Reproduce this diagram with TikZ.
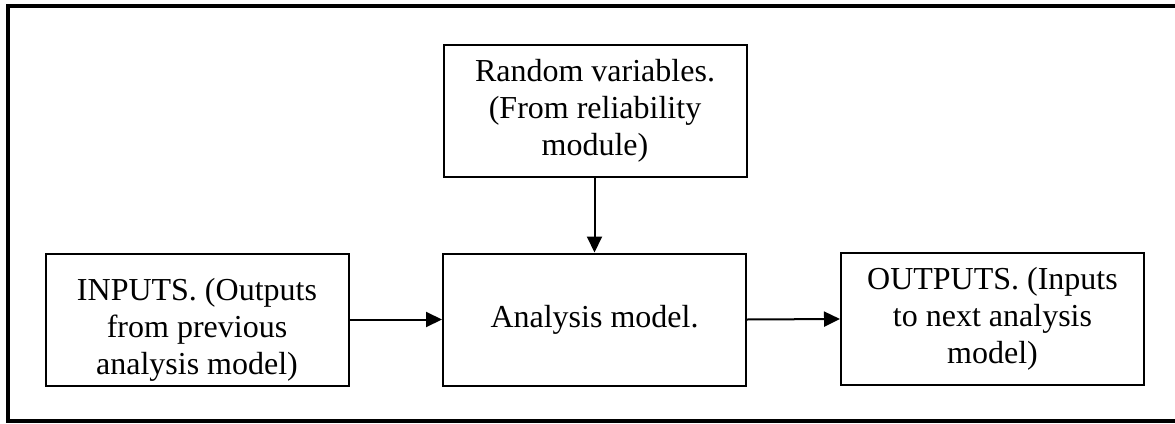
\documentclass[tikz,border=0pt]{standalone}
\usepackage{fontspec}
\setmainfont{Liberation Serif}
\usetikzlibrary{arrows.meta}
\tikzset{
  txt/.style={align=center, inner sep=0pt, font=\fontsize{32}{37}\selectfont},
  block/.style={draw, line width=2pt, rectangle, minimum width=303pt,
    minimum height=132pt, txt},
  flow/.style={line width=2pt, -{Triangle[length=16pt,width=15pt]}},
  frame/.style={line width=4pt}
}
\begin{document}
\begin{tikzpicture}[x=1pt,y=-1pt]
  \useasboundingbox (0,0) rectangle (1175,423);
  % outer frame, running past the right edge of the page
  \draw[frame] (8,6) rectangle (1190,421);

  \node[block] (rv)  at (595,111)   {Random variables.\\(From reliability\\module)};
  \node[block] (in)  at (197,319.5) {};
  \node[txt] (intext) at (197,329.5) {INPUTS. (Outputs\\from previous\\analysis model)};
  \node[block] (am)  at (594.5,319.5) {Analysis model.};
  \node[block] (out) at (992.5,319) {OUTPUTS. (Inputs\\to next analysis\\model)};

  \draw[flow] (rv.south -| am.north) -- (am.north);
  \draw[flow] (in.east) -- (am.west);
  \draw[flow] (am.east) -- (out.west);
\end{tikzpicture}
\end{document}
